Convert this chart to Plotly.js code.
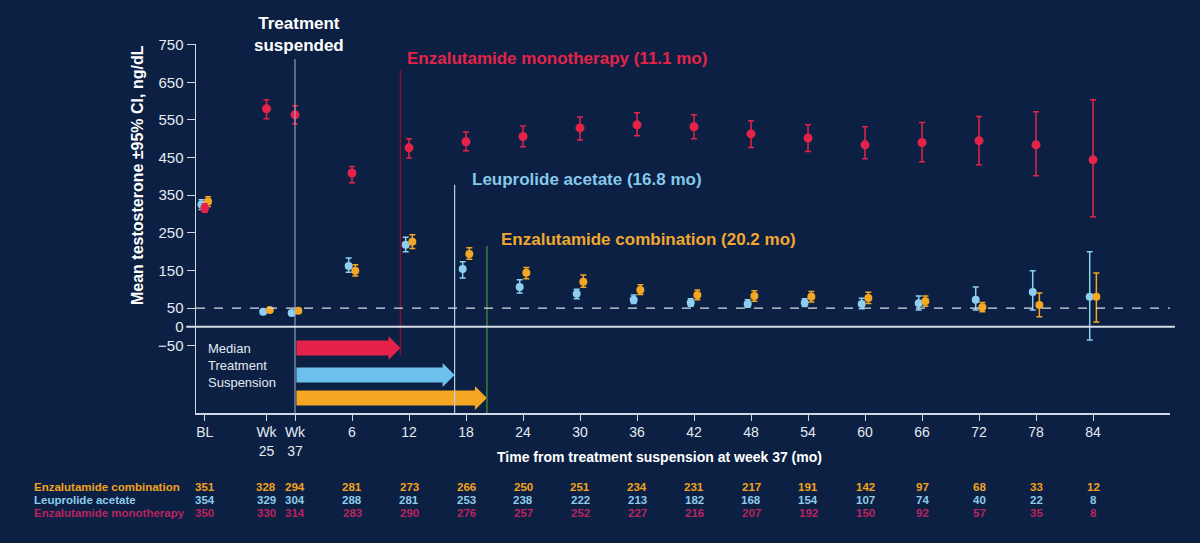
<!DOCTYPE html>
<html>
<head>
<meta charset="utf-8">
<script src="https://cdn.plot.ly/plotly-3.0.1.min.js"></script>
<style>
  html, body { margin: 0; padding: 0; background: #0b2042; }
  #chart { width: 1200px; height: 543px; }
</style>
</head>
<body>
<div id="chart"></div>
<script>
// Visit positions (months from suspension at week 37) and their tick labels
const xPos = [-9.5, -3, 0, 6, 12, 18, 24, 30, 36, 42, 48, 54, 60, 66, 72, 78, 84];
const xLabels = ['BL', 'Wk<br>25', 'Wk<br>37', '6', '12', '18', '24', '30', '36', '42', '48', '54', '60', '66', '72', '78', '84'];

// Enzalutamide monotherapy: mean testosterone and 95% CI (ng/dL)
const monoMean  = [316, 580, 564, 409, 476, 492, 506, 529, 537, 532, 513, 502, 484, 490, 495, 484, 444];
const monoLower = [305, 553, 540, 383, 449, 468, 479, 497, 508, 500, 477, 466, 447, 439, 431, 402, 293];
const monoUpper = [327, 604, 588, 426, 500, 518, 534, 558, 569, 564, 548, 537, 532, 543, 559, 572, 604];

// Leuprolide acetate
const leuMean  = [325, 40, 37, 162, 218, 154, 106, 88, 72, 64, 61, 64, 61, 63, 72, 93, 80];
const leuLower = [312, 35, 33, 145, 200, 130, 90, 75, 62, 55, 52, 54, 48, 45, 45, 45, -35];
const leuUpper = [338, 45, 42, 183, 238, 173, 125, 100, 85, 75, 72, 75, 76, 82, 106, 149, 200];

// Enzalutamide combination
const comboMean  = [333, 45, 43, 149, 226, 194, 144, 120, 98, 85, 82, 80, 77, 68, 52, 58, 80];
const comboLower = [320, 40, 38, 135, 208, 180, 128, 105, 86, 72, 68, 66, 62, 55, 40, 27, 13];
const comboUpper = [346, 50, 48, 165, 245, 210, 158, 138, 112, 98, 96, 94, 92, 82, 65, 90, 143];

// Patients with a value at each visit
const comboN = [351, 328, 294, 281, 273, 266, 250, 251, 234, 231, 217, 191, 142, 97, 68, 33, 12];
const leuN   = [354, 329, 304, 288, 281, 253, 238, 222, 213, 182, 168, 154, 107, 74, 40, 22, 8];
const monoN  = [350, 330, 314, 283, 290, 276, 257, 252, 227, 216, 207, 192, 150, 92, 57, 35, 8];

// Median treatment suspension (months)
const armNames = ['Enzalutamide monotherapy', 'Leuprolide acetate', 'Enzalutamide combination'];
const medianSuspension = [11.1, 16.8, 20.2];

const yTicks = [750, 650, 550, 450, 350, 250, 150, 50, 0, -50];

const BG = '#0b2042';
const RED = '#e5234a', BLUE = '#8ccff0', ORANGE = '#f5a623';
const FONT = 'Arial, "Liberation Sans", Helvetica, sans-serif';
const TXT = '#e4eaf2';

function errs(mean, lo, hi) {
  return {
    type: 'data', symmetric: false,
    array: hi.map((v, i) => v - mean[i]),
    arrayminus: mean.map((v, i) => v - lo[i]),
    thickness: 1.5, width: 3
  };
}
function shift(d) { return xPos.map(v => v + d); }

const traces = [
  { name: 'Leuprolide acetate', x: shift(-0.35), y: leuMean, type: 'scatter', mode: 'markers',
    marker: { color: BLUE, size: 8 }, error_y: Object.assign(errs(leuMean, leuLower, leuUpper), { color: BLUE }) },
  { name: 'Enzalutamide combination', x: shift(0.35), y: comboMean, type: 'scatter', mode: 'markers',
    marker: { color: ORANGE, size: 8 }, error_y: Object.assign(errs(comboMean, comboLower, comboUpper), { color: ORANGE }) },
  { name: 'Enzalutamide monotherapy', x: xPos, y: monoMean, type: 'scatter', mode: 'markers',
    marker: { color: RED, size: 9 }, error_y: Object.assign(errs(monoMean, monoLower, monoUpper), { color: RED }) }
];

// Plot geometry helpers (data units per pixel)
const yRange = [-229, 752];
const xRange = [-10.42, 92.1];
const plotH = 543 - 44 - 130;
const plotW = 1200 - 196 - 30;
const yPerPx = (yRange[1] - yRange[0]) / plotH;
const xPerPx = (xRange[1] - xRange[0]) / plotW;

// Arrows showing median treatment suspension per arm
const arrowColors = [RED, '#6cc0ee', ORANGE];
const arrowCenters = [-56, -128, -189];
const shapes = [];
medianSuspension.forEach((m, i) => {
  const yc = arrowCenters[i];
  const bh = 7.5 * yPerPx, hh = 12 * yPerPx, hl = 12 * xPerPx;
  const x0 = 0.15, xe = m - hl;
  const path = `M ${x0},${yc - bh} L ${xe},${yc - bh} L ${xe},${yc - hh} L ${m},${yc} L ${xe},${yc + hh} L ${xe},${yc + bh} L ${x0},${yc + bh} Z`;
  shapes.push({ type: 'path', xref: 'x', yref: 'y', path: path, fillcolor: arrowColors[i], line: { width: 0 }, layer: 'above' });
});

// Vertical marker lines
shapes.push({ type: 'line', xref: 'x', yref: 'y', x0: 0, x1: 0, y0: yRange[0], y1: 712, line: { color: '#9fb6cf', width: 1 } });
shapes.push({ type: 'line', xref: 'x', yref: 'y', x0: medianSuspension[0], x1: medianSuspension[0], y0: -75, y1: 683, line: { color: '#7e1632', width: 1.5 } });
shapes.push({ type: 'line', xref: 'x', yref: 'y', x0: medianSuspension[1], x1: medianSuspension[1], y0: yRange[0], y1: 378, line: { color: '#b7d3ea', width: 1.2 } });
shapes.push({ type: 'line', xref: 'x', yref: 'y', x0: medianSuspension[2], x1: medianSuspension[2], y0: yRange[0], y1: 215, line: { color: '#3f7d3a', width: 1.5 } });
// Castration threshold and zero reference
shapes.push({ type: 'line', xref: 'paper', yref: 'y', x0: 0, x1: 1, y0: 50, y1: 50, line: { color: '#d6dde8', width: 1.2, dash: 'dash' } });
shapes.push({ type: 'line', xref: 'paper', yref: 'y', x0: -0.01, x1: 1.005, y0: 0, y1: 0, line: { color: '#d6dde8', width: 2 } });

const annotations = [
  { text: 'Treatment<br>suspended', xref: 'x', yref: 'paper', x: 0.4, y: 1.027, showarrow: false,
    font: { family: FONT, size: 17, color: '#ffffff', weight: 'bold' }, align: 'center', xanchor: 'center', yanchor: 'middle' },
  { text: 'Enzalutamide monotherapy (11.1 mo)', xref: 'x', yref: 'y', x: medianSuspension[0] + 0.5, y: 713, showarrow: false,
    font: { family: FONT, size: 17, color: RED, weight: 'bold' }, xanchor: 'left', yanchor: 'middle' },
  { text: 'Leuprolide acetate (16.8 mo)', xref: 'x', yref: 'y', x: medianSuspension[1] + 1.6, y: 392, showarrow: false,
    font: { family: FONT, size: 17, color: '#86c8ea', weight: 'bold' }, xanchor: 'left', yanchor: 'middle' },
  { text: 'Enzalutamide combination (20.2 mo)', xref: 'x', yref: 'y', x: medianSuspension[2] + 1.3, y: 232, showarrow: false,
    font: { family: FONT, size: 17, color: '#f0a830', weight: 'bold' }, xanchor: 'left', yanchor: 'middle' },
  { text: 'Median<br>Treatment<br>Suspension', xref: 'paper', yref: 'y', x: 0.01, y: -102, showarrow: false,
    font: { family: FONT, size: 13, color: TXT }, align: 'left', xanchor: 'left', yanchor: 'middle' },
  { text: 'Mean testosterone \u00b195% CI, ng/dL', xref: 'paper', yref: 'paper', x: -0.0595, y: 0.645, textangle: -90, showarrow: false,
    font: { family: FONT, size: 16, color: '#ffffff', weight: 'bold' }, xanchor: 'center', yanchor: 'middle' },
  { text: 'Time from treatment suspension at week 37 (mo)', xref: 'paper', yref: 'paper', x: 0.476, y: -0.119, showarrow: false,
    font: { family: FONT, size: 14, color: '#ffffff', weight: 'bold' }, xanchor: 'center', yanchor: 'middle' }
];

// Count table under the axis
const rows = [
  { name: armNames[2], counts: comboN, color: '#f2a21e', y: -0.2005 },
  { name: armNames[1], counts: leuN, color: '#8fcbea', y: -0.2358 },
  { name: armNames[0], counts: monoN, color: '#b8245f', y: -0.271 }
];
rows.forEach(r => {
  annotations.push({ text: r.name, xref: 'paper', yref: 'paper', x: -0.168, y: r.y, showarrow: false,
    font: { family: FONT, size: 11.5, color: r.color, weight: 'bold' }, xanchor: 'left', yanchor: 'middle' });
  r.counts.forEach((c, i) => {
    annotations.push({ text: String(c), xref: 'x', yref: 'paper', x: xPos[i], y: r.y, showarrow: false,
      font: { family: FONT, size: 11.5, color: r.color, weight: 'bold' }, xanchor: 'center', yanchor: 'middle' });
  });
});

const layout = {
  width: 1200, height: 543,
  paper_bgcolor: BG, plot_bgcolor: BG,
  margin: { l: 196, r: 30, t: 44, b: 130 },
  showlegend: false,
  font: { family: FONT, color: TXT },
  xaxis: {
    range: xRange, tickmode: 'array', tickvals: xPos, ticktext: xLabels,
    showgrid: false, zeroline: false, showline: true, linecolor: '#d0d8e4', linewidth: 1.5,
    ticks: 'outside', ticklen: 6, tickcolor: '#d0d8e4', tickwidth: 1,
    tickfont: { family: FONT, size: 14, color: TXT }
  },
  yaxis: {
    range: yRange, tickmode: 'array', tickvals: yTicks, ticktext: yTicks.map(v => v < 0 ? '\u2212' + Math.abs(v) : String(v)),
    showgrid: false, zeroline: false, showline: true, linecolor: '#d0d8e4', linewidth: 1.5,
    ticks: 'outside', ticklen: 8, tickcolor: '#d0d8e4', tickwidth: 1,
    tickfont: { family: FONT, size: 15, color: TXT }
  },
  shapes: shapes,
  annotations: annotations
};

Plotly.newPlot('chart', traces, layout, { displayModeBar: false, staticPlot: true });
</script>
</body>
</html>
